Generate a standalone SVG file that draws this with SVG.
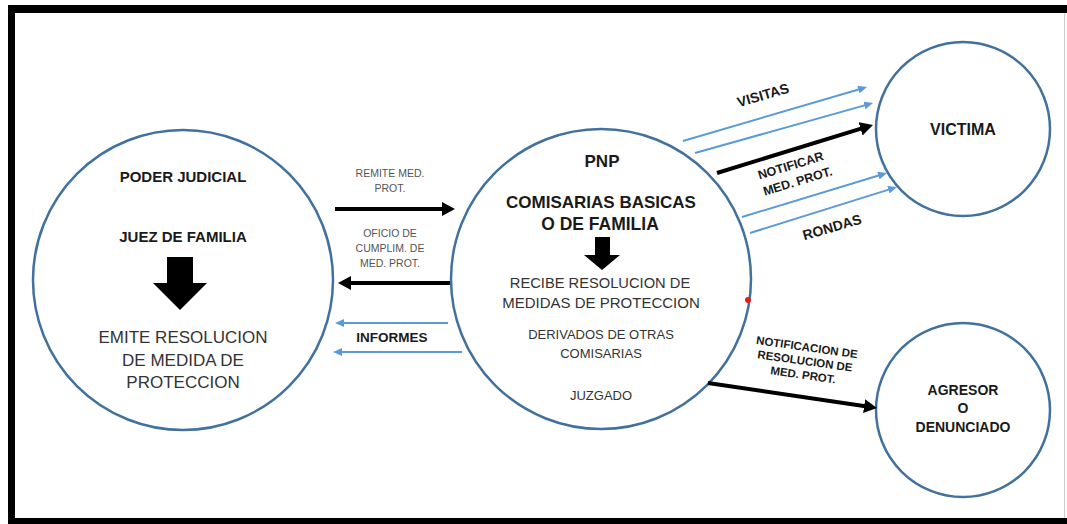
<svg xmlns="http://www.w3.org/2000/svg" width="1067" height="524" viewBox="0 0 1067 524">
<defs>
<style>
.node{fill:#fff;stroke:#41719C;stroke-width:2.5}
.b{font-family:"Liberation Sans",Arial,sans-serif;font-weight:bold;fill:#1a1a1a;text-anchor:middle}
.r{font-family:"Liberation Sans",Arial,sans-serif;fill:#333;text-anchor:middle}
.s{font-family:"Liberation Sans",Arial,sans-serif;fill:#555;text-anchor:middle;font-size:10.5px}
.blk{stroke:#000;stroke-width:4;fill:none;marker-end:url(#hb)}
.blu{stroke:#5B9BD5;stroke-width:2;fill:none;marker-end:url(#hl)}
</style>
<marker id="hb" markerUnits="userSpaceOnUse" markerWidth="13" markerHeight="14" refX="3" refY="7" orient="auto"><path d="M0,0 L13,7 L0,14 z" fill="#000"/></marker>
<marker id="hl" markerUnits="userSpaceOnUse" markerWidth="9" markerHeight="8" refX="2" refY="4" orient="auto"><path d="M0,0 L9,4 L0,8 z" fill="#5B9BD5"/></marker>
</defs>
<rect width="1067" height="524" fill="#fff"/>
<g id="frame">
<rect x="8" y="5" width="1059" height="8" fill="#000"/>
<rect x="8" y="5" width="7" height="519" fill="#000"/>
<rect x="8" y="518" width="1059" height="6" fill="#000"/>
<line x1="1064.5" y1="13" x2="1064.5" y2="518" stroke="#ccc" stroke-width="1"/>
</g>
<g id="poder-judicial">
<circle class="node" cx="183" cy="280" r="150"/>
<text class="b" x="183" y="182" font-size="15">PODER JUDICIAL</text>
<text class="b" x="183" y="242" font-size="15">JUEZ DE FAMILIA</text>
<polygon points="167,257 193,257 193,283 207,283 180,310 153,283 167,283" fill="#000"/>
<text class="r" x="183" y="343" font-size="17">EMITE RESOLUCION</text>
<text class="r" x="183" y="365.5" font-size="17">DE MEDIDA DE</text>
<text class="r" x="183" y="388" font-size="17">PROTECCION</text>
</g>
<g id="pnp">
<circle class="node" cx="601" cy="279" r="150"/>
<text class="b" x="602" y="167" font-size="17">PNP</text>
<text class="b" x="601" y="208" font-size="17">COMISARIAS BASICAS</text>
<text class="b" x="600" y="230" font-size="17.5">O DE FAMILIA</text>
<polygon points="595,237 610,237 610,255 620,255 602,270 584,255 595,255" fill="#000"/>
<text class="r" x="600" y="288" font-size="14.7">RECIBE RESOLUCION DE</text>
<text class="r" x="601" y="308" font-size="15">MEDIDAS DE PROTECCION</text>
<text class="r" x="601" y="339" font-size="13">DERIVADOS DE OTRAS</text>
<text class="r" x="601" y="358" font-size="13">COMISARIAS</text>
<text class="r" x="601" y="400" font-size="13">JUZGADO</text>
<circle cx="748" cy="300" r="3" fill="#e02020"/>
</g>
<g id="victima">
<circle class="node" cx="963" cy="129" r="87"/>
<text class="b" x="963" y="135" font-size="16">VICTIMA</text>
</g>
<g id="agresor">
<circle class="node" cx="963" cy="410" r="87"/>
<text class="b" x="963" y="395" font-size="14">AGRESOR</text>
<text class="b" x="963" y="413" font-size="14">O</text>
<text class="b" x="963" y="432" font-size="14">DENUNCIADO</text>
</g>
<g id="connectors">
<line class="blk" x1="335" y1="209" x2="445" y2="209"/>
<line class="blk" x1="450" y1="283" x2="348" y2="283"/>
<line class="blu" x1="448" y1="323" x2="342" y2="323"/>
<line class="blu" x1="462" y1="352" x2="340" y2="352"/>
<line class="blu" x1="683" y1="141" x2="860.3" y2="89"/>
<line class="blu" x1="695" y1="153" x2="866.3" y2="104.9"/>
<line class="blk" x1="717" y1="173" x2="863.4" y2="127.9"/>
<line class="blu" x1="742" y1="217" x2="880.3" y2="175"/>
<line class="blu" x1="750" y1="233" x2="890.3" y2="189.1"/>
<line class="blk" x1="708" y1="383" x2="867.1" y2="406.5"/>
<text class="s" x="390" y="177">REMITE MED.</text>
<text class="s" x="390" y="192">PROT.</text>
<text class="s" x="390" y="237">OFICIO DE</text>
<text class="s" x="390" y="252">CUMPLIM. DE</text>
<text class="s" x="390" y="267">MED. PROT.</text>
<text class="b" x="392" y="342" font-size="13.5">INFORMES</text>
<g transform="translate(763,95) rotate(-16)"><text class="b" x="0" y="5" font-size="14">VISITAS</text></g>
<g transform="translate(793,173) rotate(-17)"><text class="b" x="0" y="-3.5" font-size="12.5">NOTIFICAR</text><text class="b" x="2" y="13.5" font-size="12.5">MED. PROT.</text></g>
<g transform="translate(832,227) rotate(-16)"><text class="b" x="0" y="5" font-size="14">RONDAS</text></g>
<g transform="translate(805,361) rotate(8)"><text class="b" x="0" y="-10" font-size="11.5">NOTIFICACION DE</text><text class="b" x="0" y="4" font-size="11.5">RESOLUCION DE</text><text class="b" x="0" y="18" font-size="11.5">MED. PROT.</text></g>
</g>
</svg>
